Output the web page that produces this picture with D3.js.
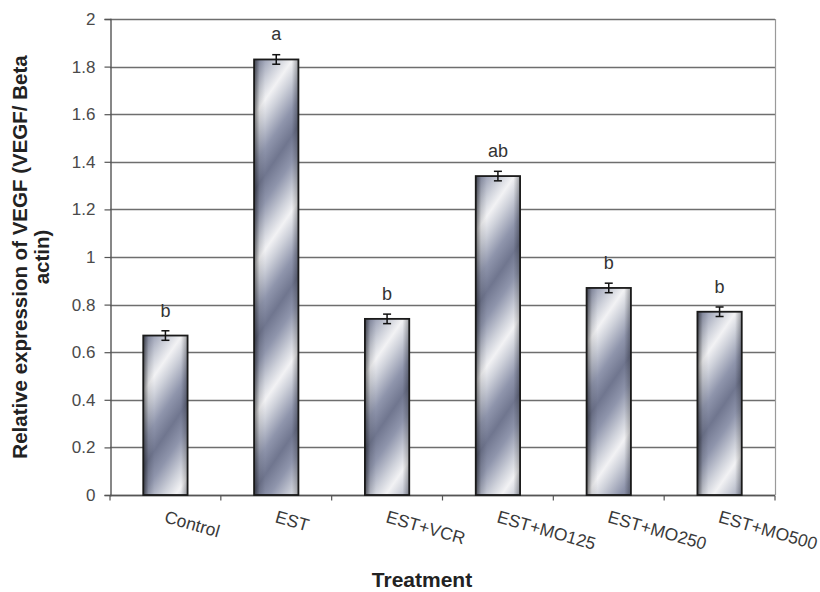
<!DOCTYPE html>
<html>
<head>
<meta charset="utf-8">
<script src="https://cdn.jsdelivr.net/npm/d3@7/dist/d3.min.js"></script>
<style>
  html, body { margin: 0; padding: 0; background: #fff; }
  svg { display: block; font-family: Arial, "Liberation Sans", sans-serif; }
</style>
</head>
<body>
<svg id="chart" width="820" height="592"></svg>
<script>
// Treatment groups and VEGF/Beta actin relative expression
const categories = ["Control", "EST", "EST+VCR", "EST+MO125", "EST+MO250", "EST+MO500"];
const values = [0.67, 1.83, 0.74, 1.34, 0.87, 0.77];
const errors = [0.02, 0.02, 0.02, 0.02, 0.02, 0.02];
const letters = ["b", "a", "b", "ab", "b", "b"];
const yTicks = [0, 0.2, 0.4, 0.6, 0.8, 1, 1.2, 1.4, 1.6, 1.8, 2];

const svg = d3.select("#chart");
const margin = { left: 110, right: 45, top: 19, bottom: 97 };
const W = 820, H = 592;

const x = d3.scaleBand()
  .domain(categories)
  .range([margin.left, W - margin.right])
  .paddingInner(0.6)
  .paddingOuter(0.3);

const y = d3.scaleLinear()
  .domain([0, 2])
  .range([H - margin.bottom, margin.top]);

// Metallic fill: diagonal reflected stripes plus darkened side edges
const defs = svg.append("defs");
categories.forEach((c, i) => {
  const x0 = x(c);
  const top = y(values[i]);
  const g = defs.append("linearGradient")
    .attr("id", "metal" + i)
    .attr("gradientUnits", "userSpaceOnUse")
    .attr("spreadMethod", "reflect")
    .attr("x1", x0 - 6).attr("y1", top - 10)
    .attr("x2", x0 + 29).attr("y2", top + 14);
  [[0, "#70768f"], [0.35, "#8f95ac"], [0.75, "#ced1da"], [1, "#f2f2f4"]].forEach(([o, col]) =>
    g.append("stop").attr("offset", o).attr("stop-color", col));
});
const edge = defs.append("linearGradient").attr("id", "edge")
  .attr("x1", 0).attr("y1", 0).attr("x2", 1).attr("y2", 0);
[[0, "#000", 0.55], [0.12, "#000", 0.1], [0.25, "#000", 0], [0.85, "#000", 0],
 [1, "#000", 0.3]].forEach(([o, col, a]) =>
  edge.append("stop").attr("offset", o).attr("stop-color", col).attr("stop-opacity", a));

// Horizontal gridlines
svg.append("g")
  .selectAll("line")
  .data(yTicks)
  .join("line")
  .attr("x1", margin.left).attr("x2", W - margin.right)
  .attr("y1", d => Math.round(y(d)) + 0.5).attr("y2", d => Math.round(y(d)) + 0.5)
  .attr("stroke", "#6e6e6e").attr("stroke-width", 1.4);

// Right border of plot area
svg.append("line")
  .attr("x1", W - margin.right + 0.5).attr("x2", W - margin.right + 0.5)
  .attr("y1", y(2)).attr("y2", y(0))
  .attr("stroke", "#9a9a9a").attr("stroke-width", 1.2);

// Y axis
const yAxis = svg.append("g")
  .attr("transform", `translate(${margin.left + 0.5},0)`)
  .call(d3.axisLeft(y).tickValues(yTicks).tickFormat(d3.format("")).tickSize(6).tickPadding(9));
yAxis.select(".domain").attr("stroke", "#555").attr("stroke-width", 1.4);
yAxis.selectAll(".tick line").attr("stroke", "#555").attr("stroke-width", 1.2);
yAxis.selectAll(".tick text")
  .attr("fill", "#4a4a4a").style("font-size", "17px")
  .style("font-family", "Arial, 'Liberation Sans', sans-serif");

// X axis with ticks between categories
const xAxisG = svg.append("g").attr("transform", `translate(0,${y(0) + 0.5})`);
xAxisG.append("line")
  .attr("x1", margin.left).attr("x2", W - margin.right)
  .attr("stroke", "#555").attr("stroke-width", 1.4);
const bounds = d3.range(categories.length + 1).map(k => margin.left + k * (W - margin.left - margin.right) / categories.length);
xAxisG.selectAll(".sep")
  .data(bounds)
  .join("line")
  .attr("class", "sep")
  .attr("x1", d => d).attr("x2", d => d)
  .attr("y1", 0).attr("y2", 5)
  .attr("stroke", "#555").attr("stroke-width", 1.2);

// Bars
const bars = svg.append("g");
bars.selectAll("rect.fill")
  .data(categories)
  .join("rect")
  .attr("class", "fill")
  .attr("x", d => x(d))
  .attr("y", (d, i) => y(values[i]))
  .attr("width", x.bandwidth())
  .attr("height", (d, i) => y(0) - y(values[i]))
  .attr("fill", (d, i) => `url(#metal${i})`);
bars.selectAll("rect.edge")
  .data(categories)
  .join("rect")
  .attr("class", "edge")
  .attr("x", d => x(d))
  .attr("y", (d, i) => y(values[i]))
  .attr("width", x.bandwidth())
  .attr("height", (d, i) => y(0) - y(values[i]))
  .attr("fill", "url(#edge)")
  .attr("stroke", "#1a1a1a").attr("stroke-width", 1.8);

// Error bars
const eb = svg.append("g").attr("stroke", "#111").attr("stroke-width", 1.5);
categories.forEach((c, i) => {
  const cx = x(c) + x.bandwidth() / 2;
  const hi = y(values[i] + errors[i]), lo = y(values[i] - errors[i]);
  eb.append("line").attr("x1", cx).attr("x2", cx).attr("y1", hi).attr("y2", lo);
  eb.append("line").attr("x1", cx - 4).attr("x2", cx + 4).attr("y1", hi).attr("y2", hi);
  eb.append("line").attr("x1", cx - 4).attr("x2", cx + 4).attr("y1", lo).attr("y2", lo);
});

// Significance letters
svg.append("g")
  .selectAll("text")
  .data(categories)
  .join("text")
  .attr("x", d => x(d) + x.bandwidth() / 2)
  .attr("y", (d, i) => y(values[i]) - 19)
  .attr("text-anchor", "middle")
  .attr("fill", "#333")
  .style("font-size", "18px")
  .text((d, i) => letters[i]);

// Rotated category labels
svg.append("g")
  .selectAll("text")
  .data(categories)
  .join("text")
  .attr("transform", d => `translate(${x(d) + x.bandwidth() / 2 - 2},${y(0) + 27}) rotate(16)`)
  .attr("fill", "#3a3a3a")
  .style("font-size", "17.5px")
  .text(d => d);

// Axis titles
svg.append("text")
  .attr("x", 422).attr("y", 587)
  .attr("text-anchor", "middle")
  .attr("fill", "#222")
  .style("font-size", "21px").style("font-weight", "bold")
  .text("Treatment");

const yt = svg.append("text")
  .attr("transform", `translate(27,${(y(0) + y(2)) / 2 + 0}) rotate(-90)`)
  .attr("text-anchor", "middle")
  .attr("fill", "#222")
  .style("font-size", "20.5px").style("font-weight", "bold");
yt.append("tspan").attr("x", 0).attr("dy", 0).text("Relative expression of VEGF (VEGF/ Beta");
yt.append("tspan").attr("x", 0).attr("dy", 22).text("actin)");
</script>
</body>
</html>
